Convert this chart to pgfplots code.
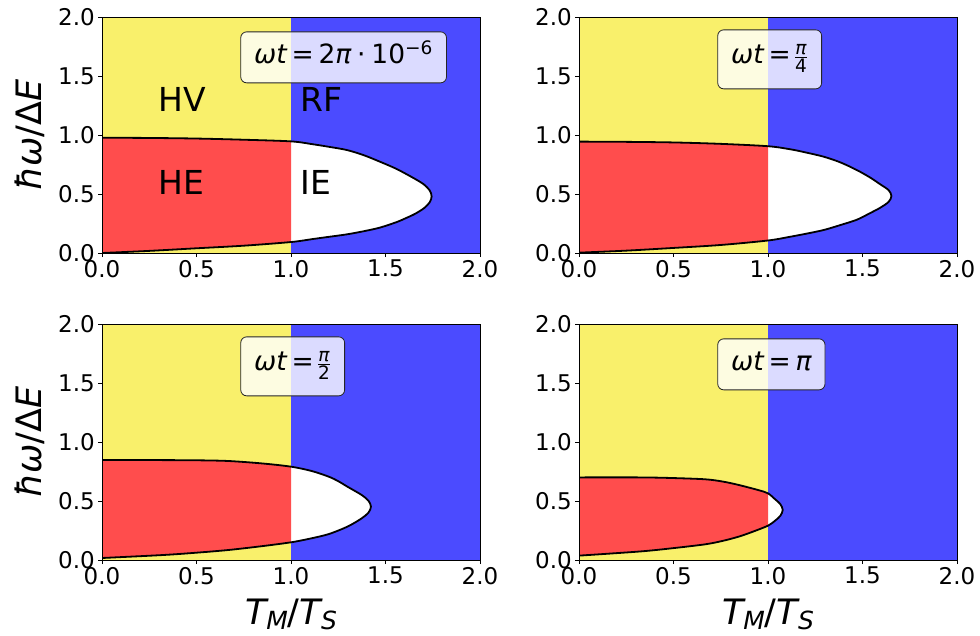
\documentclass[border=0pt]{standalone}
\usepackage{fontspec}
\setmainfont{DejaVu Sans}
\usepackage{pgfplots}
\usepackage{pgfplotstable}
\pgfplotsset{compat=1.18}

\definecolor{cyel}{RGB}{249,240,107}
\definecolor{cblu}{RGB}{75,75,255}
\definecolor{cred}{RGB}{255,77,77}

\newcommand\tickfont{\fontsize{23}{27}\selectfont}
\newcommand\labfont{\fontsize{35}{40}\selectfont}
\newcommand\regfont{\fontsize{33}{38}\selectfont}
\newcommand\annfont{\fontsize{26.5}{30}\selectfont}
\newcommand\fracfont{\fontsize{18.5}{19}\selectfont}
\newcommand\sub[1]{\raisebox{-5pt}{\fontsize{25}{25}\selectfont\itshape #1}}

% closed boundary curves (upper branch x: 0 -> tip, lower branch tip -> 0)
\pgfplotstableread{
x y
0 0.977
0.25 0.975
0.5 0.970
0.75 0.960
1.0 0.946
1.118 0.921
1.2 0.900
1.295 0.873
1.383 0.830
1.47 0.774
1.559 0.712
1.654 0.630
1.704 0.580
1.734 0.530
1.744 0.480
1.734 0.430
1.704 0.380
1.654 0.330
1.600 0.290
1.559 0.262
1.47 0.215
1.383 0.184
1.295 0.158
1.2 0.137
1.118 0.119
1.0 0.093
0.75 0.062
0.5 0.040
0.25 0.018
0 0.0
}\tlc
\pgfplotstableread{
x y
0 0.977
0.25 0.975
0.5 0.970
0.75 0.960
1.0 0.946
1.0 0.093
0.75 0.062
0.5 0.040
0.25 0.018
0 0.0
}\tlr

\pgfplotstableread{
x y
0 0.944
0.25 0.942
0.5 0.937
0.75 0.925
1.0 0.905
1.118 0.879
1.2 0.852
1.295 0.816
1.383 0.768
1.47 0.703
1.540 0.640
1.593 0.583
1.638 0.533
1.653 0.483
1.638 0.433
1.593 0.383
1.540 0.338
1.47 0.282
1.383 0.237
1.295 0.195
1.2 0.163
1.118 0.138
1.0 0.106
0.75 0.068
0.5 0.043
0.25 0.020
0 0.003
}\trc
\pgfplotstableread{
x y
0 0.944
0.25 0.942
0.5 0.937
0.75 0.925
1.0 0.905
1.0 0.106
0.75 0.068
0.5 0.043
0.25 0.020
0 0.003
}\trr

\pgfplotstableread{
x y
0 0.847
0.25 0.847
0.5 0.845
0.67 0.839
0.85 0.818
1.0 0.791
1.11 0.754
1.2 0.706
1.25 0.668
1.30 0.620
1.373 0.552
1.410 0.502
1.423 0.452
1.410 0.402
1.373 0.352
1.30 0.284
1.2 0.220
1.1 0.181
1.0 0.150
0.85 0.118
0.67 0.085
0.5 0.062
0.32 0.042
0 0.017
}\blc
\pgfplotstableread{
x y
0 0.847
0.25 0.847
0.5 0.845
0.67 0.839
0.85 0.818
1.0 0.791
1.0 0.150
0.85 0.118
0.67 0.085
0.5 0.062
0.32 0.042
0 0.017
}\blr

\pgfplotstableread{
x y
0 0.700
0.32 0.700
0.49 0.695
0.668 0.684
0.76 0.665
0.845 0.636
0.95 0.592
1.0 0.565
1.038 0.514
1.065 0.474
1.078 0.424
1.065 0.374
1.038 0.334
1.0 0.291
0.92 0.240
0.845 0.198
0.76 0.162
0.668 0.133
0.49 0.099
0.32 0.072
0 0.037
}\brc
\pgfplotstableread{
x y
0 0.700
0.32 0.700
0.49 0.695
0.668 0.684
0.76 0.665
0.845 0.636
0.95 0.592
1.0 0.565
1.0 0.291
0.92 0.240
0.845 0.198
0.76 0.162
0.668 0.133
0.49 0.099
0.32 0.072
0 0.037
}\brr

\pgfplotsset{
  panel/.style={
    scale only axis, width=378pt, height=236pt,
    anchor=south west,
    xmin=0, xmax=2, ymin=0, ymax=2,
    xtick={0,0.5,1,1.5,2}, ytick={0,0.5,1,1.5,2},
    tick pos=left, tick align=outside, major tick length=4pt,
    tick style={black, line width=0.8pt},
    axis line style={black, line width=0.8pt},
    ticklabel style={font=\tickfont, inner sep=3pt},
    /pgf/number format/fixed,
    /pgf/number format/fixed zerofill,
    /pgf/number format/precision=1,
    /pgf/number format/assume math mode=true,
    axis on top,
    clip=true,
  },
  withylabel/.style={
    ylabel={{\itshape ħω}/Δ{\itshape E}},
    ylabel style={font=\labfont, at={(axis description cs:-0.159,0.5)}, anchor=base, rotate=0, inner sep=0pt},
  },
  withxlabel/.style={
    xlabel={{\itshape T}\sub{M}/{\itshape T}\sub{S}},
    xlabel style={font=\labfont, at={(axis description cs:0.5,-0.272)}, anchor=base, inner sep=0pt},
  },
  curve/.style={black, line width=1.8pt, smooth, tension=0.5},
  whitefill/.style={fill=white, draw=none, smooth, tension=0.5},
}
\tikzset{
  annbox/.style={draw=black!85, line width=0.8pt, rounded corners=6pt,
    fill=white, fill opacity=0.8, text opacity=1, font=\annfont,
    inner xsep=13.5pt, inner ysep=8pt, outer sep=0pt, anchor=base west},
  reg/.style={font=\regfont, inner sep=0pt, anchor=base west},
}

\begin{document}
\begin{tikzpicture}
\path[use as bounding box] (0pt,0pt) rectangle (980pt,-635pt);

% ---------- top left ----------
\begin{axis}[panel, withylabel, at={(102pt,-253pt)}]
\addplot[fill=cyel, draw=none] coordinates {(0,2) (1,2)} \closedcycle;
\addplot[fill=cblu, draw=none] coordinates {(1,2) (2,2)} \closedcycle;
\addplot[whitefill] table {\tlc} -- cycle;
\addplot[fill=cred, draw=none] table {\tlr} -- cycle;
\addplot[curve] table {\tlc};
\node[reg] at (axis cs:0.3,1.2) {HV};
\node[reg] at (axis cs:1.05,1.2) {RF};
\node[reg] at (axis cs:0.3,0.5) {HE};
\node[reg] at (axis cs:1.05,0.5) {IE};
\node[annbox, text height=24pt, text depth=11pt] at (axis cs:0.734,1.603)
  {{\itshape ωt}\hspace{0.18em}=\hspace{0.18em}2{\itshape π}\hspace{0.22em}·\hspace{0.22em}10\textsuperscript{−6}};
\end{axis}

% ---------- top right ----------
\begin{axis}[panel, at={(579pt,-253pt)}]
\addplot[fill=cyel, draw=none] coordinates {(0,2) (1,2)} \closedcycle;
\addplot[fill=cblu, draw=none] coordinates {(1,2) (2,2)} \closedcycle;
\addplot[whitefill] table {\trc} -- cycle;
\addplot[fill=cred, draw=none] table {\trr} -- cycle;
\addplot[curve] table {\trc};
\node[annbox, text height=26pt, text depth=17pt] at (axis cs:0.734,1.603)
  {{\itshape ωt}\hspace{0.18em}=\hspace{0.12em}\ensuremath{\frac{\hbox{\fracfont\itshape π}}{\hbox{\fracfont 4}}}};
\end{axis}

% ---------- bottom left ----------
\begin{axis}[panel, withylabel, withxlabel, at={(102pt,-560pt)}]
\addplot[fill=cyel, draw=none] coordinates {(0,2) (1,2)} \closedcycle;
\addplot[fill=cblu, draw=none] coordinates {(1,2) (2,2)} \closedcycle;
\addplot[whitefill] table {\blc} -- cycle;
\addplot[fill=cred, draw=none] table {\blr} -- cycle;
\addplot[curve] table {\blc};
\node[annbox, text height=26pt, text depth=17pt] at (axis cs:0.734,1.603)
  {{\itshape ωt}\hspace{0.18em}=\hspace{0.12em}\ensuremath{\frac{\hbox{\fracfont\itshape π}}{\hbox{\fracfont 2}}}};
\end{axis}

% ---------- bottom right ----------
\begin{axis}[panel, withxlabel, at={(579pt,-560pt)}]
\addplot[fill=cyel, draw=none] coordinates {(0,2) (1,2)} \closedcycle;
\addplot[fill=cblu, draw=none] coordinates {(1,2) (2,2)} \closedcycle;
\addplot[whitefill] table {\brc} -- cycle;
\addplot[fill=cred, draw=none] table {\brr} -- cycle;
\addplot[curve] table {\brc};
\node[annbox, text height=24pt, text depth=11pt] at (axis cs:0.734,1.603)
  {{\itshape ωt}\hspace{0.18em}=\hspace{0.18em}{\itshape π}};
\end{axis}
\end{tikzpicture}
\end{document}
